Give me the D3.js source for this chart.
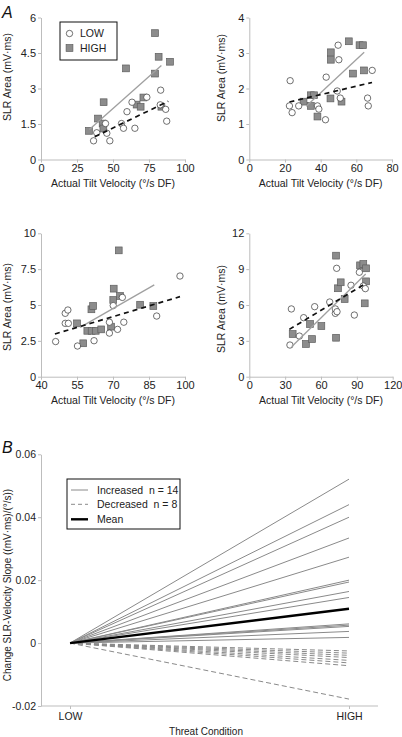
<!DOCTYPE html>
<html><head><meta charset="utf-8">
<script src="https://cdn.jsdelivr.net/npm/d3@7"></script>
<style>
body{margin:0;background:#fff;}
svg{display:block;font-family:"Liberation Sans",Arial,sans-serif;}
</style></head>
<body>
<script>
// ---------- DATA ----------
const p1LowX  = [36.5, 38.7, 44.8, 45.7, 47.8, 55.9, 57.3, 59.7, 63.2, 65.2, 73.5, 82.8, 83.1, 86.6, 87.3];
const p1LowY  = [0.79, 1.13, 1.52, 1.11, 0.79, 1.52, 1.32, 2.02, 2.42, 1.32, 2.63, 2.31, 2.93, 2.12, 1.62];
const p1HighX = [33.3, 39.6, 42.8, 43.3, 43.5, 59.0, 66.4, 69.2, 71.1, 79.2, 79.2, 81.7, 83.6, 89.6];
const p1HighY = [1.21, 1.73, 1.52, 1.31, 2.42, 3.85, 2.32, 2.23, 2.62, 5.34, 3.63, 4.34, 2.23, 4.13];
const p1HighFit = [[33.6, 1.27], [83.6, 3.97]];
const p1LowFit  = [[37.3, 0.96], [88.4, 2.46]];

const p2LowX  = [22.9, 22.5, 24.0, 27.7, 38.2, 39.0, 43.1, 42.7, 49.8, 50.2, 49.3, 51.0, 66.3, 66.7, 68.9];
const p2LowY  = [2.22, 1.51, 1.32, 1.51, 1.51, 1.42, 2.32, 1.12, 3.22, 2.81, 1.93, 1.73, 1.73, 1.51, 2.51];
const p2HighX = [30.4, 34.5, 36.3, 34.5, 38.2, 45.7, 45.7, 45.5, 51.7, 55.8, 58.1, 61.8, 63.7, 64.3];
const p2HighY = [1.63, 1.81, 1.81, 1.51, 1.21, 3.02, 2.81, 1.72, 1.63, 3.33, 2.42, 3.22, 3.22, 2.51];
const p2HighFit = [[31.9, 1.50], [64.4, 3.02]];
const p2LowFit  = [[22.5, 1.62], [68.8, 2.17]];

const p3LowX  = [46.1, 50.1, 51.2, 50.1, 51.4, 55.2, 62.1, 68.5, 68.5, 70.1, 71.9, 73.9, 74.5, 88.2, 97.9];
const p3LowY  = [2.45, 4.42, 4.65, 3.72, 3.72, 2.14, 2.51, 3.80, 3.04, 4.96, 3.30, 5.53, 3.80, 4.23, 7.02];
const p3HighX = [55.0, 57.6, 59.3, 61.1, 62.8, 61.0, 61.7, 65.1, 69.2, 70.1, 70.3, 72.9, 72.4, 81.3, 86.8];
const p3HighY = [3.72, 2.33, 3.20, 3.20, 3.20, 4.70, 4.93, 3.30, 3.49, 5.35, 6.14, 5.63, 8.81, 5.02, 4.93];
const p3HighFit = [[56.3, 3.44], [87.2, 6.40]];
const p3LowFit  = [[45.8, 2.98], [97.9, 5.58]];

const p4LowX  = [34.0, 35.2, 41.9, 45.5, 54.7, 67.3, 72.0, 72.0, 73.4, 73.1, 85.1, 87.9, 92.1, 95.4, 97.1];
const p4LowY  = [2.65, 5.67, 3.40, 4.94, 5.86, 6.25, 5.30, 5.67, 5.44, 9.07, 7.65, 5.16, 8.74, 7.59, 7.37];
const p4HighX = [36.3, 47.4, 50.8, 52.5, 60.3, 72.6, 72.6, 74.2, 76.5, 79.8, 92.7, 95.4, 97.7, 97.7, 96.6];
const p4HighY = [3.57, 2.74, 4.41, 3.15, 4.24, 3.26, 10.13, 7.40, 7.90, 6.50, 9.32, 9.43, 9.07, 7.98, 6.14];
const p4HighFit = [[35.4, 2.51], [97.4, 8.60]];
const p4LowFit  = [[33.5, 3.96], [95.4, 7.68]];

const p1XTicks = [0, 25, 50, 75, 100], p1YTicks = [0, 1.5, 3, 4.5, 6];
const p2XTicks = [0, 20, 40, 60, 80],  p2YTicks = [0, 1, 2, 3, 4];
const p3XTicks = [40, 55, 70, 85, 100], p3YTicks = [0, 2.5, 5, 7.5, 10];
const p4XTicks = [0, 30, 60, 90, 120], p4YTicks = [0, 3, 6, 9, 12];

const conditions = ["LOW", "HIGH"];
const increasedHigh = [0.0521, 0.0440, 0.0400, 0.0334, 0.0273, 0.0200, 0.0194, 0.0164, 0.0145, 0.0061, 0.0057, 0.0053, 0.0037, 0.0018];
const decreasedHigh = [-0.0025, -0.0032, -0.0039, -0.0046, -0.0055, -0.0063, -0.0072, -0.0178];
const meanHigh = 0.0109;
const bYTicks = [-0.02, 0, 0.02, 0.04, 0.06];
const bYTickLabels = ["-0.02", "0", "0.02", "0.04", "0.06"];

// ---------- DRAW ----------
const W = 402, H = 737;
const svg = d3.select("body").append("svg").attr("width", W).attr("height", H);
const axisCol = "#bdbdbd", textCol = "#222";

function styleAxis(g){
  g.selectAll("path.domain").attr("stroke", axisCol).attr("stroke-width", 1);
  g.selectAll(".tick line").attr("stroke", axisCol).attr("stroke-width", 1);
  g.selectAll(".tick text").attr("fill", textCol).style("font-size", "11px")
    .style("font-family", "Liberation Sans, Arial, sans-serif");
}

function panel(cfg){
  const x = d3.scaleLinear().domain(cfg.xDom).range([cfg.x0, cfg.x1]);
  const y = d3.scaleLinear().domain(cfg.yDom).range([cfg.y0, cfg.y1]);
  const g = svg.append("g");
  const gx = g.append("g").attr("transform", `translate(0,${cfg.y0})`)
    .call(d3.axisBottom(x).tickValues(cfg.xTicks).tickSize(3).tickSizeOuter(0).tickPadding(2).tickFormat(d3.format("")));
  styleAxis(gx);
  const gy = g.append("g").attr("transform", `translate(${cfg.x0},0)`)
    .call(d3.axisLeft(y).tickValues(cfg.yTicks).tickSize(3).tickSizeOuter(0).tickPadding(2).tickFormat(d3.format("")));
  styleAxis(gy);
  g.append("text").attr("x", (cfg.x0 + cfg.x1) / 2).attr("y", cfg.y0 + 27)
    .attr("text-anchor", "middle").attr("fill", textCol).style("font-size", "10.5px")
    .text("Actual Tilt Velocity (°/s DF)");
  g.append("text").attr("transform", `translate(${cfg.ylx},${cfg.yly}) rotate(-90)`)
    .attr("text-anchor", "middle").attr("dy", "0.35em").attr("fill", textCol).style("font-size", "10.5px")
    .text("SLR Area (mV·ms)");
  // markers
  g.append("g").selectAll("rect").data(cfg.hx.map((v, i) => [v, cfg.hy[i]])).join("rect")
    .attr("x", d => x(d[0]) - 3.4).attr("y", d => y(d[1]) - 3.4)
    .attr("width", 6.8).attr("height", 6.8)
    .attr("fill", "#8c8c8c").attr("stroke", "#5e5e5e").attr("stroke-width", 0.7);
  g.append("g").selectAll("circle").data(cfg.lx.map((v, i) => [v, cfg.ly[i]])).join("circle")
    .attr("cx", d => x(d[0])).attr("cy", d => y(d[1])).attr("r", 3.2)
    .attr("fill", "#fff").attr("stroke", "#333").attr("stroke-width", 0.7);
  const line = d3.line().x(d => x(d[0])).y(d => y(d[1]));
  g.append("path").attr("d", line(cfg.hFit)).attr("stroke", "#a0a0a0").attr("stroke-width", 1.3).attr("fill", "none");
  g.append("path").attr("d", line(cfg.lFit)).attr("stroke", "#111").attr("stroke-width", 1.7)
    .attr("stroke-dasharray", "5,4").attr("fill", "none");
  return {x, y};
}

const P1 = panel({xDom:[0,100], yDom:[0,6], x0:41, x1:185, y0:159.5, y1:17.5, xTicks:p1XTicks, yTicks:p1YTicks,
  lx:p1LowX, ly:p1LowY, hx:p1HighX, hy:p1HighY, hFit:p1HighFit, lFit:p1LowFit, ylx:7, yly:77});
panel({xDom:[0,80], yDom:[0,4], x0:249.3, x1:392, y0:159.5, y1:17.5, xTicks:p2XTicks, yTicks:p2YTicks,
  lx:p2LowX, ly:p2LowY, hx:p2HighX, hy:p2HighY, hFit:p2HighFit, lFit:p2LowFit, ylx:221, yly:78});
panel({xDom:[40,100], yDom:[0,10], x0:41, x1:185, y0:376.7, y1:233.3, xTicks:p3XTicks, yTicks:p3YTicks,
  lx:p3LowX, ly:p3LowY, hx:p3HighX, hy:p3HighY, hFit:p3HighFit, lFit:p3LowFit, ylx:7, yly:307});
panel({xDom:[0,120], yDom:[0,12], x0:249.3, x1:392.7, y0:376.7, y1:233.3, xTicks:p4XTicks, yTicks:p4YTicks,
  lx:p4LowX, ly:p4LowY, hx:p4HighX, hy:p4HighY, hFit:p4HighFit, lFit:p4LowFit, ylx:221, yly:309});

// legend A
const lg = svg.append("g");
lg.append("rect").attr("x", 60).attr("y", 22).attr("width", 57).attr("height", 38)
  .attr("fill", "#fff").attr("stroke", "#111").attr("stroke-width", 1);
lg.append("circle").attr("cx", 69.5).attr("cy", 33.5).attr("r", 3.2).attr("fill", "#fff").attr("stroke", "#333").attr("stroke-width", 0.7);
lg.append("rect").attr("x", 66.1).attr("y", 44.6).attr("width", 6.8).attr("height", 6.8).attr("fill", "#8c8c8c").attr("stroke", "#5e5e5e").attr("stroke-width", 0.7);
lg.append("text").attr("x", 80).attr("y", 33.5).attr("dy", "0.35em").attr("fill", textCol).style("font-size", "10.5px").text("LOW");
lg.append("text").attr("x", 80).attr("y", 48).attr("dy", "0.35em").attr("fill", textCol).style("font-size", "10.5px").text("HIGH");

// Panel labels
svg.append("text").attr("x", 2).attr("y", 18).attr("fill", "#111").style("font-size", "16px").style("font-style", "italic").text("A");
svg.append("text").attr("x", 2).attr("y", 453).attr("fill", "#111").style("font-size", "16px").style("font-style", "italic").text("B");

// ---------- PANEL B ----------
const bx = d3.scalePoint().domain(conditions).range([70, 349]);
const by = d3.scaleLinear().domain([-0.02, 0.06]).range([706, 454.3]);
const gB = svg.append("g");
// x axis line
gB.append("line").attr("x1", 41).attr("x2", 378).attr("y1", 706).attr("y2", 706).attr("stroke", axisCol);
const gbx = gB.append("g").attr("transform", "translate(0,706)")
  .call(d3.axisBottom(bx).tickSize(3).tickSizeOuter(0).tickPadding(4));
gbx.select("path.domain").remove();
styleAxis(gbx);
gbx.selectAll(".tick text").style("font-size", "10.5px");
const gby = gB.append("g").attr("transform", "translate(41,0)")
  .call(d3.axisLeft(by).tickValues(bYTicks).tickSize(3).tickSizeOuter(0).tickPadding(2).tickFormat((d, i) => bYTickLabels[i]));
styleAxis(gby);
gby.selectAll(".tick text").style("font-size", "10.5px");
gB.append("text").attr("x", 206).attr("y", 735).attr("text-anchor", "middle").attr("fill", textCol)
  .style("font-size", "10px").text("Threat Condition");
gB.append("text").attr("transform", "translate(7.5,585) rotate(-90)").attr("text-anchor", "middle").attr("dy", "0.35em")
  .attr("fill", textCol).style("font-size", "10px").text("Change SLR-Velocity Slope ((mV·ms)/(°/s))");

const segs = gB.append("g");
decreasedHigh.forEach(v => {
  segs.append("line").attr("x1", bx("LOW")).attr("y1", by(0)).attr("x2", bx("HIGH")).attr("y2", by(v))
    .attr("stroke", "#8a8a8a").attr("stroke-width", 1).attr("stroke-dasharray", "5,3");
});
increasedHigh.forEach(v => {
  segs.append("line").attr("x1", bx("LOW")).attr("y1", by(0)).attr("x2", bx("HIGH")).attr("y2", by(v))
    .attr("stroke", "#8a8a8a").attr("stroke-width", 1);
});
segs.append("line").attr("x1", bx("LOW")).attr("y1", by(0)).attr("x2", bx("HIGH")).attr("y2", by(meanHigh))
  .attr("stroke", "#000").attr("stroke-width", 2.4);

// legend B
const lb = svg.append("g");
lb.append("rect").attr("x", 67).attr("y", 479).attr("width", 113).attr("height", 50)
  .attr("fill", "#fff").attr("stroke", "#111").attr("stroke-width", 1);
const lbItems = [
  {t:"Increased  n = 14", dash:null, col:"#8a8a8a", w:1, y:490},
  {t:"Decreased  n = 8", dash:"4,3", col:"#8a8a8a", w:1, y:504.3},
  {t:"Mean", dash:null, col:"#000", w:2.4, y:519.3}
];
lbItems.forEach(it => {
  const l = lb.append("line").attr("x1", 71).attr("x2", 88).attr("y1", it.y).attr("y2", it.y)
    .attr("stroke", it.col).attr("stroke-width", it.w);
  if (it.dash) l.attr("stroke-dasharray", it.dash);
  lb.append("text").attr("x", 97).attr("y", it.y).attr("dy", "0.35em").attr("fill", textCol)
    .style("font-size", "10.5px").style("white-space", "pre").attr("xml:space", "preserve").text(it.t);
});
</script>
</body></html>
